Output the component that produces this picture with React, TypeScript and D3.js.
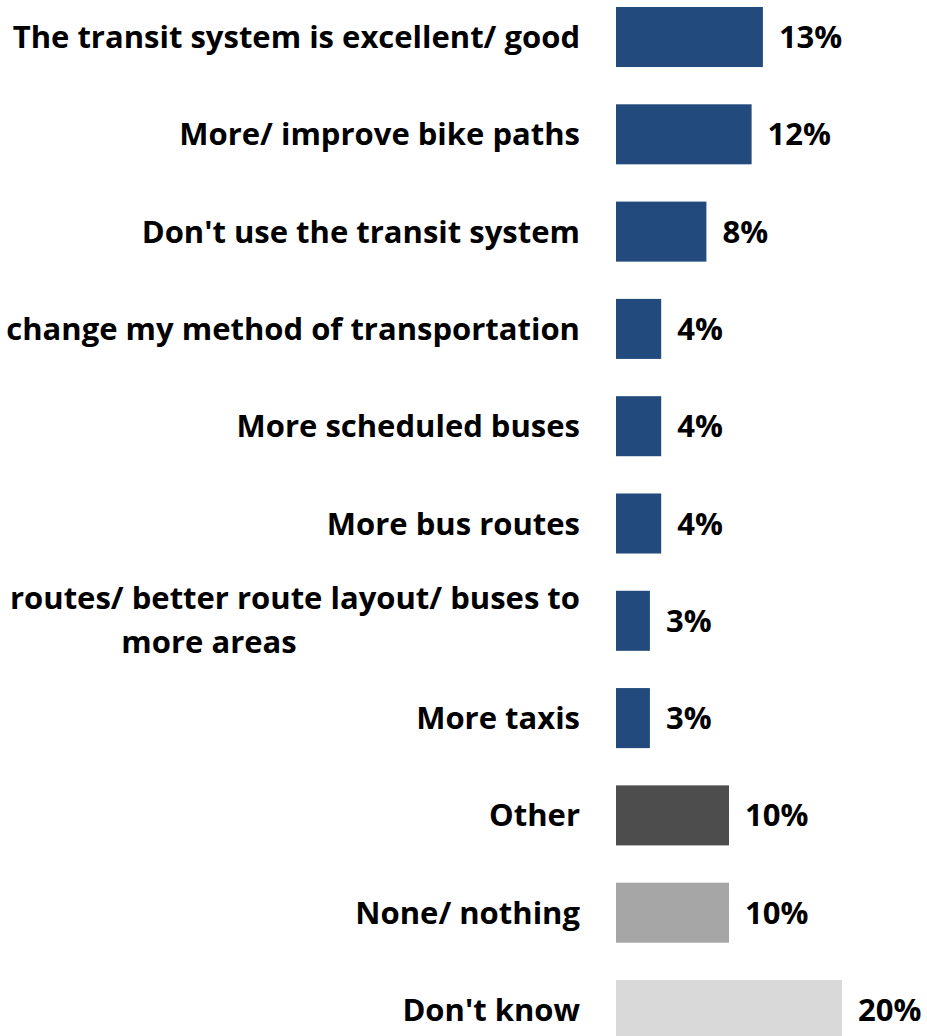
import React from 'react';
import * as d3 from 'd3';

// --- data ---
const categories = [
    "The transit system is excellent/ good",
    "More/ improve bike paths",
    "Don't use the transit system",
    "change my method of transportation",
    "More scheduled buses",
    "More bus routes",
    "routes/ better route layout/ buses to|more areas",
    "More taxis",
    "Other",
    "None/ nothing",
    "Don't know",
];
const values = [13, 12, 8, 4, 4, 4, 3, 3, 10, 10, 20];
const barColors = [
    "#224a7c", "#224a7c", "#224a7c", "#224a7c", "#224a7c", "#224a7c",
    "#224a7c", "#224a7c", "#4d4d4d", "#a6a6a6", "#d9d9d9",
];

const W = 927;
const H = 1036;
const FONT = '"Open Sans", sans-serif';

export default function App() {
    const x = d3.scaleLinear().domain([0, 20]).range([616, 842]);
    const y = d3.scaleBand<number>()
        .domain(d3.range(categories.length))
        .range([7, 1040])
        .paddingInner(0.383)
        .paddingOuter(0);

    return (
        <svg width={W} height={H} style={{ position: 'absolute', left: 0, top: 0, background: '#fff' }}
            fontFamily={FONT} fontWeight="bold" fontSize={31}>
            {categories.map((cat, i) => {
                const y0 = y(i)!;
                const cy = y0 + y.bandwidth() / 2;
                const lines = cat.split('|');
                return (
                    <g key={cat}>
                        <rect x={x(0)} y={y0} width={x(values[i]) - x(0)} height={y.bandwidth()} fill={barColors[i]} />
                        {lines.length === 1 ? (
                            <text x={580} y={cy + 11} textAnchor="end">{cat}</text>
                        ) : (
                            <>
                                <text x={580} y={cy - 12} textAnchor="end">{lines[0]}</text>
                                <text x={209} y={cy + 32} textAnchor="middle">{lines[1]}</text>
                            </>
                        )}
                        <text x={x(values[i]) + 16} y={cy + 11}>{values[i]}%</text>
                    </g>
                );
            })}
        </svg>
    );
}
